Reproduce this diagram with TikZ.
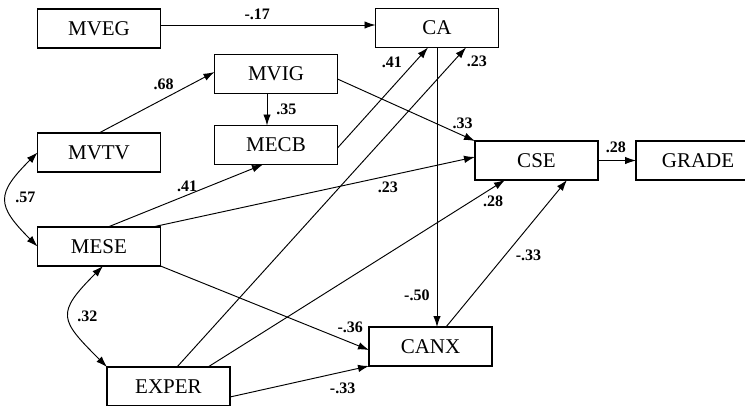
\documentclass[tikz,border=0pt]{standalone}
\usepackage{fontspec}
\setmainfont{Liberation Serif}
\usetikzlibrary{positioning, arrows.meta}
\tikzset{
    >={Latex[length=11pt,width=7.5pt]},
    var/.style={draw, line width=1.1pt, minimum width=123pt, minimum height=39pt,
        inner sep=0pt, outer sep=0pt, font=\fontsize{21}{24}\selectfont},
    path/.style={->, line width=0.95pt},
    lbl/.style={inner sep=1pt, font=\bfseries\fontsize{16}{18}\selectfont}
}

\begin{document}
\begin{tikzpicture}[x=1pt, y=-1pt]
    \useasboundingbox (0,0) rectangle (745,405);
    % variables
        \node[var] (mveg) at (99,28.5) {MVEG};
        \node[var] (ca) at (437,28) {CA};
        \node[var] (mvig) at (276,74) {MVIG};
        \node[var] (mecb) at (276,145) {MECB};
        \node[var] (mvtv) at (99,152.5) {MVTV};
        \node[var] (cse) at (536.5,160.5) {CSE};
        \node[var, minimum width=124pt] (grade) at (698,160.5) {GRADE};
        \node[var] (mese) at (99,246.5) {MESE};
        \node[var] (canx) at (430.5,346.5) {CANX};
        \node[var] (exper) at (168.5,386.5) {EXPER};
    % paths
        \draw[path] ([yshift=3.5pt]mveg.east) -- node[lbl, pos=.45, above=4pt] (w1) {-.17} ([yshift=3pt]ca.west);
        \draw[path] (mvtv.north) -- node[lbl, pos=.56, above=8pt] (w2) {.68} ([yshift=2pt]mvig.west);
        \draw[path] ([xshift=-9pt]mvig.south) -- node[lbl, pos=.48, right=8pt] (w3) {.35} ([xshift=-9pt]mecb.north);
        \draw[path] ([yshift=-5pt]mvig.east) -- node[lbl, pos=.91, above=5pt] (w4) {.33} (cse.north west);
        \draw[path] ([yshift=-3pt]mecb.east) -- node[lbl, pos=.85, left=11pt] (w5) {.41} ([xshift=-9pt]ca.south);
        \draw[path] ([xshift=9pt]mese.north) -- node[lbl, pos=.51, above=1.5pt] (w6) {.41} ([xshift=-13pt]mecb.south);
        \draw[path] ([xshift=-8pt]mese.north east) -- node[lbl, pos=.73, below=4.5pt] (w7) {.23} ([yshift=3.5pt]cse.west);
        \draw[path] (mese.south east) -- node[lbl, pos=.91, above=8.5pt] (w8) {-.36} ([yshift=-3.5pt]canx.west);
        \draw[path] ([xshift=8.5pt]exper.north) -- node[lbl, pos=.956, right=12pt] (w9) {.23} ([xshift=29pt]ca.south);
        \draw[path] ([xshift=39.5pt]exper.north) -- node[lbl, pos=.96, below=7pt] (w10) {.28} ([xshift=-31.5pt]cse.south);
        \draw[path] ([yshift=-10.5pt]exper.east) -- node[lbl, pos=.81, below=9.5pt] (w11) {-.33} (canx.south west);
        \draw[path] (ca.south) -- node[lbl, pos=.885, left=6pt] (w12) {-.50} (ca.south |- canx.north);
        \draw[path] ([xshift=15.5pt]canx.north) -- node[lbl, pos=.49, right=9pt] (w13) {-.33} ([xshift=30.5pt]cse.south);
        \draw[path] (cse.east) -- node[lbl, pos=.47, above=6pt] (w14) {.28} (grade.west);
    % correlations
        \draw[path, <->] (mvtv.west) to[out=225, in=135, looseness=1.6] node[lbl, pos=.47, right=7.5pt] (r1) {.57} (mese.west);
        \draw[path, <->] ([xshift=4pt]mese.south) to[out=225, in=135, looseness=1.7] node[lbl, pos=.5, right=6.5pt] (r2) {.32} (exper.north west);
\end{tikzpicture}
\end{document}
